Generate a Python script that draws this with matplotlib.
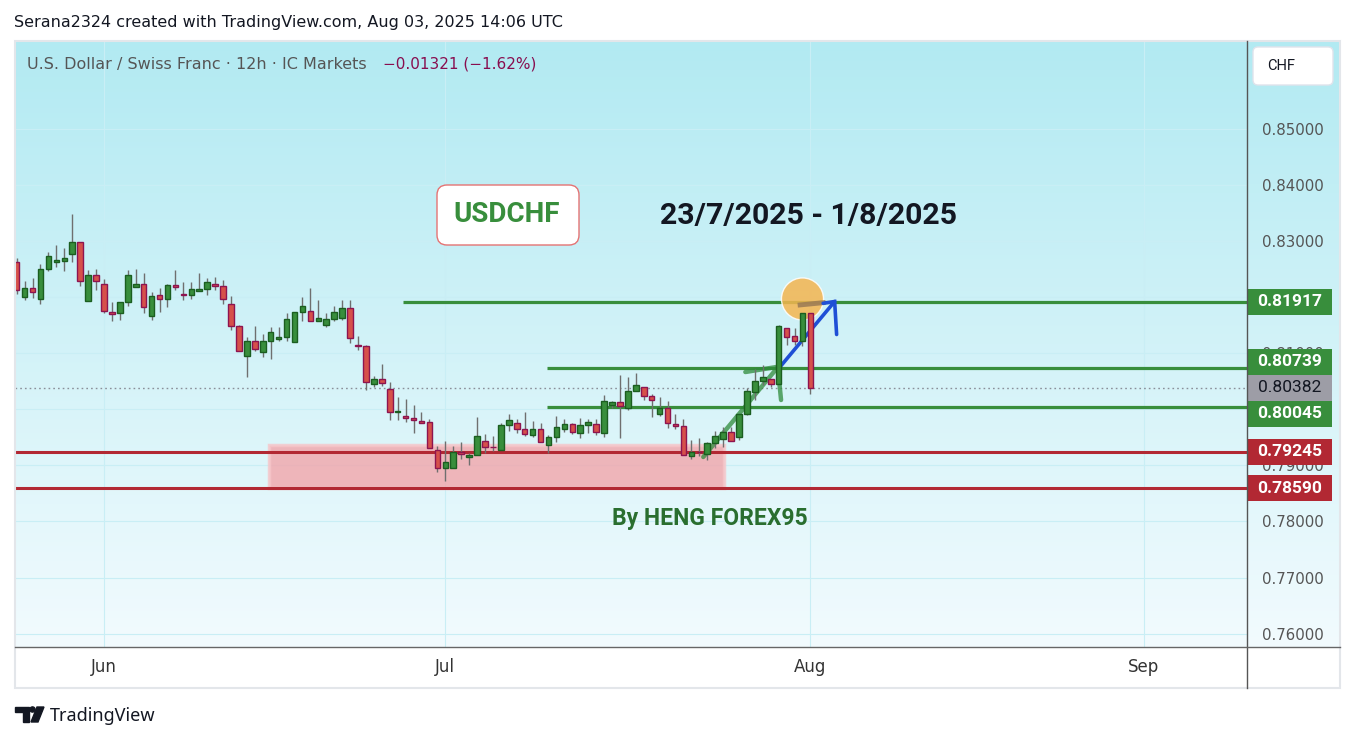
import numpy as np
import matplotlib.pyplot as plt
from matplotlib.patches import Rectangle, FancyBboxPatch, Ellipse, Polygon, Circle

plt.rcParams['font.family'] = ['DejaVu Sans']
NEGRITA = ['Roboto', 'DejaVu Sans']

# velas 12h USD/CHF
opens = [0.8262, 0.8200, 0.8216, 0.8196, 0.8250, 0.8262, 0.8265, 0.8277, 0.8298, 0.8193,
         0.8239, 0.8223, 0.8173, 0.8172, 0.8191, 0.8218, 0.8223, 0.8166, 0.8203, 0.8196,
         0.8221, 0.8205, 0.8203, 0.8211, 0.8214, 0.8223, 0.8219, 0.8187, 0.8148, 0.8095,
         0.8121, 0.8102, 0.8121, 0.8126, 0.8129, 0.8120, 0.8173, 0.8175, 0.8157, 0.8150,
         0.8161, 0.8162, 0.8180, 0.8114, 0.8112, 0.8045, 0.8054, 0.8036, 0.7995, 0.7988,
         0.7984, 0.7979, 0.7977, 0.7927, 0.7896, 0.7895, 0.7923, 0.7915, 0.7918, 0.7943,
         0.7933, 0.7927, 0.7972, 0.7975, 0.7965, 0.7954, 0.7965, 0.7936, 0.7950, 0.7965,
         0.7973, 0.7957, 0.7972, 0.7973, 0.7957, 0.8007, 0.8013, 0.8002, 0.8032, 0.8039,
         0.8023, 0.7991, 0.8002, 0.7973, 0.7970, 0.7916, 0.7924, 0.7920, 0.7940, 0.7947,
         0.7959, 0.7950, 0.7991, 0.8030, 0.8050, 0.8054, 0.8045, 0.8145, 0.8130, 0.8121,
         0.8171]
highs = [0.8270, 0.8229, 0.8234, 0.8259, 0.8281, 0.8293, 0.8287, 0.8348, 0.8298, 0.8249,
         0.8250, 0.8232, 0.8191, 0.8191, 0.8249, 0.8250, 0.8243, 0.8209, 0.8216, 0.8223,
         0.8249, 0.8227, 0.8227, 0.8243, 0.8234, 0.8236, 0.8231, 0.8202, 0.8150, 0.8129,
         0.8149, 0.8134, 0.8147, 0.8147, 0.8172, 0.8173, 0.8200, 0.8216, 0.8195, 0.8172,
         0.8184, 0.8195, 0.8195, 0.8131, 0.8114, 0.8059, 0.8081, 0.8048, 0.8022, 0.8018,
         0.8008, 0.7995, 0.7983, 0.7935, 0.7944, 0.7935, 0.7942, 0.7922, 0.7986, 0.7956,
         0.7952, 0.7975, 0.7992, 0.7983, 0.7995, 0.7979, 0.7976, 0.7954, 0.7988, 0.7983,
         0.7975, 0.7985, 0.7982, 0.7982, 0.8026, 0.8014, 0.8061, 0.8058, 0.8065, 0.8039,
         0.8027, 0.8022, 0.8014, 0.7991, 0.7982, 0.7945, 0.7949, 0.7942, 0.7961, 0.7968,
         0.7968, 0.7992, 0.8038, 0.8071, 0.8079, 0.8054, 0.8150, 0.8145, 0.8145, 0.8171,
         0.8171]
lows = [0.8206, 0.8194, 0.8199, 0.8188, 0.8247, 0.8254, 0.8247, 0.8262, 0.8219, 0.8193,
        0.8213, 0.8172, 0.8158, 0.8159, 0.8184, 0.8218, 0.8171, 0.8160, 0.8174, 0.8183,
        0.8212, 0.8194, 0.8196, 0.8211, 0.8204, 0.8213, 0.8187, 0.8142, 0.8104, 0.8057,
        0.8104, 0.8094, 0.8090, 0.8121, 0.8122, 0.8120, 0.8158, 0.8157, 0.8157, 0.8147,
        0.8158, 0.8160, 0.8118, 0.8106, 0.8035, 0.8040, 0.8042, 0.7981, 0.7980, 0.7978,
        0.7958, 0.7975, 0.7931, 0.7889, 0.7873, 0.7895, 0.7912, 0.7901, 0.7918, 0.7922,
        0.7925, 0.7927, 0.7961, 0.7957, 0.7952, 0.7950, 0.7941, 0.7922, 0.7942, 0.7959,
        0.7956, 0.7948, 0.7957, 0.7954, 0.7951, 0.8002, 0.7948, 0.7998, 0.8032, 0.8016,
        0.7986, 0.7988, 0.7966, 0.7965, 0.7918, 0.7911, 0.7916, 0.7910, 0.7931, 0.7933,
        0.7943, 0.7945, 0.7990, 0.8017, 0.8043, 0.8039, 0.8045, 0.8114, 0.8114, 0.8112,
        0.8027]
closes = [0.8212, 0.8216, 0.8209, 0.8250, 0.8273, 0.8266, 0.8269, 0.8298, 0.8228, 0.8239,
          0.8228, 0.8175, 0.8170, 0.8191, 0.8239, 0.8223, 0.8182, 0.8202, 0.8196, 0.8221,
          0.8218, 0.8203, 0.8214, 0.8214, 0.8227, 0.8219, 0.8196, 0.8148, 0.8104, 0.8121,
          0.8108, 0.8121, 0.8137, 0.8129, 0.8161, 0.8173, 0.8184, 0.8157, 0.8162, 0.8161,
          0.8173, 0.8180, 0.8127, 0.8113, 0.8048, 0.8054, 0.8047, 0.7996, 0.7997, 0.7984,
          0.7980, 0.7976, 0.7931, 0.7896, 0.7906, 0.7923, 0.7920, 0.7918, 0.7952, 0.7932,
          0.7932, 0.7972, 0.7980, 0.7965, 0.7956, 0.7965, 0.7941, 0.7950, 0.7968, 0.7973,
          0.7959, 0.7972, 0.7977, 0.7959, 0.8014, 0.8013, 0.8006, 0.8032, 0.8043, 0.8023,
          0.8016, 0.8002, 0.7975, 0.7970, 0.7918, 0.7923, 0.7923, 0.7940, 0.7952, 0.7959,
          0.7943, 0.7991, 0.8032, 0.8050, 0.8057, 0.8045, 0.8148, 0.8129, 0.8121, 0.8171,
          0.80382]

ultimo = 0.80382
niveles_verdes = [0.81917, 0.80739, 0.80045]
inicio_verdes = [48.7, 66.8, 66.8]
niveles_rojos = [0.79245, 0.78590]
zona_x = [31.8, 89.1]
zona_y = [0.78590, 0.79363]
meses = ['Jun', 'Jul', 'Aug', 'Sep']
pos_meses = [11, 54, 100, 142]
precios_eje = np.round(np.arange(0.76, 0.851, 0.01), 2)
ocultos = [0.80, 0.82]  # tapados por las etiquetas de precio

# dibujos a mano
circulo = (99.0, 0.81966)
flecha_x = [96.05, 103.05]
flecha_y = [0.80735, 0.81921]
punta_x = [101.6, 103.05, 103.3]
punta_y = [0.81889, 0.81921, 0.81333]
trazos_verdes = [([86.5, 95.8], [0.79149, 0.80735]),
                 ([91.8, 95.7], [0.80664, 0.80753]),
                 ([95.95, 96.3], [0.80664, 0.80165])]

W, H = 1355, 742
fig = plt.figure(figsize=(W / 100, H / 100), dpi=100)
fig.patch.set_facecolor('white')


def caja(x0, y0, x1, y1):
    return [x0 / W, 1 - y1 / H, (x1 - x0) / W, (y1 - y0) / H]


# fondo degradado
fondo = fig.add_axes(caja(15, 41, 1340, 647), zorder=0)
grad = np.linspace(0, 1, 300)[:, None, None]
arriba = np.array([178, 234, 242]) / 255
abajo = np.array([242, 251, 254]) / 255
fondo.imshow(arriba + (abajo - arriba) * grad, aspect='auto', extent=[0, 1, 0, 1])
fondo.axis('off')

ax = fig.add_axes(caja(15, 41, 1247, 647), zorder=1)
ax.set_facecolor('none')
ax.set_xlim(-0.21, 155.0)
ax.set_ylim(0.75762, 0.86565)

# velas
x = np.arange(len(opens))
o, h, l, c = map(np.array, (opens, highs, lows, closes))
sube = c >= o
ax.vlines(x, l, h, color='#6f6f6f', lw=1, zorder=3)
ax.bar(x[sube], (c - o)[sube], bottom=o[sube], width=0.7, color='#388e3c',
       edgecolor='#1b5e20', lw=1, zorder=4)
ax.bar(x[~sube], (o - c)[~sube], bottom=c[~sube], width=0.7, color='#d6504a',
       edgecolor='#8e1450', lw=1, zorder=4)

# zona y niveles
ax.add_patch(Rectangle((zona_x[0], zona_y[0]), zona_x[1] - zona_x[0], zona_y[1] - zona_y[0],
                       facecolor='#f2a5ab', edgecolor='#f6c6ca', lw=2.5, alpha=0.8, zorder=1.5))
for y, x0 in zip(niveles_verdes, inicio_verdes):
    ax.hlines(y, x0, 155, color='#388e3c', lw=2.3, zorder=2)
for y in niveles_rojos:
    ax.hlines(y, -1, 155, color='#b22833', lw=2.2, zorder=2)
ax.axhline(ultimo, color='#8a8f99', lw=1, ls=(0, (1.2, 2.2)), zorder=2)

ax.add_patch(Ellipse(circulo, 5.3, 0.0075, facecolor='#f5b54f', edgecolor='white',
                     lw=1, alpha=0.85, zorder=2.5))
ax.plot([98.7, 101.6], [0.8186, 0.8190], color='#9a7a55', lw=3.5, alpha=0.85, zorder=2.6)
ax.plot(flecha_x, flecha_y, color='#1f4fd6', lw=2.6, zorder=2.6, solid_capstyle='round')
ax.plot(punta_x, punta_y, color='#1f4fd6', lw=2.6, zorder=2.6, solid_capstyle='round',
        solid_joinstyle='miter')
for tx, ty in trazos_verdes:
    ax.plot(tx, ty, color='#2e8b3a', lw=3.2, alpha=0.75, zorder=2.6, solid_capstyle='round')

# ejes
ax.set_xticks(pos_meses)
ax.set_xticklabels(meses)
ax.set_yticks(precios_eje)
ax.set_yticklabels(['' if v in ocultos else f'{v:.5f}' for v in precios_eje])
ax.yaxis.tick_right()
ax.tick_params(axis='y', length=0, pad=10.8, labelsize=10.8, labelcolor='#555555')
ax.tick_params(axis='x', length=0, pad=8, labelsize=12, labelcolor='#333333')
ax.set_axisbelow(True)
ax.grid(color='#c9eef5', lw=0.8)
for s in ax.spines.values():
    s.set_visible(False)

# etiquetas de precio a la derecha
trans = ax.get_yaxis_transform()
y0, y1 = ax.get_ylim()
gap = 26 * (y1 - y0) / 606
etiquetas = [(v, '#388e3c', 'white', 'bold') for v in niveles_verdes] + \
            [(v, '#b22833', 'white', 'bold') for v in niveles_rojos]
pos = {}
prev = ultimo
for v in sorted([e[0] for e in etiquetas if e[0] > ultimo]):
    prev = max(v, prev + gap)
    pos[v] = prev
prev = ultimo
for v in sorted([e[0] for e in etiquetas if e[0] < ultimo], reverse=True):
    prev = min(v, prev - gap)
    pos[v] = prev
etiquetas.append((ultimo, '#9d9da6', '#131722', 'normal'))
pos[ultimo] = ultimo
for v, fc, tc, wt in etiquetas:
    yp = pos[v]
    ax.add_patch(Rectangle((1.0008, yp - gap / 2), 0.068, gap, transform=trans,
                           facecolor=fc, edgecolor='none', clip_on=False, zorder=5))
    ax.text(1.0349, yp, f'{v:.5f}', transform=trans, ha='center', va='center',
            fontsize=12.5, color=tc, fontweight=wt, family=NEGRITA, clip_on=False, zorder=6)

# capa superior en pixeles
ov = fig.add_axes([0, 0, 1, 1], zorder=2)
ov.set_xlim(0, W)
ov.set_ylim(H, 0)
ov.axis('off')

ov.add_patch(Rectangle((15, 41), 1325, 647, fill=False, edgecolor='#e3e6ea', lw=1.5))
ov.plot([1247, 1247], [41, 688], color='#555555', lw=1)
ov.plot([15, 1340], [647, 647], color='#666666', lw=1)

ov.text(14, 22, 'Serana2324 created with TradingView.com, Aug 03, 2025 14:06 UTC',
        va='center', fontsize=11.5, color='#131722')
ov.text(27, 64, 'U.S. Dollar / Swiss Franc · 12h · IC Markets', va='center',
        fontsize=11.5, color='#555555')
ov.text(383, 64, '−0.01321 (−1.62%)', va='center', fontsize=11, color='#880e4f')

ov.add_patch(FancyBboxPatch((1253, 47), 80, 38, boxstyle='round,pad=0,rounding_size=5',
                            facecolor='white', edgecolor='#e0e3eb', lw=1))
ov.text(1267, 66, 'CHF', va='center', fontsize=10.5, color='#131722', family=NEGRITA)

ov.add_patch(FancyBboxPatch((437, 185), 142, 60, boxstyle='round,pad=0,rounding_size=10',
                            facecolor='white', edgecolor='#e57373', lw=1))
ov.text(507, 214, 'USDCHF', ha='center', va='center', fontsize=20, fontweight='bold',
        color='#388e3c', family=NEGRITA)
ov.text(809, 216, '23/7/2025 - 1/8/2025', ha='center', va='center', fontsize=21.8,
        fontweight='bold', color='#131722', family=NEGRITA)
ov.text(710, 519, 'By HENG FOREX95', ha='center', va='center', fontsize=16.5,
        fontweight='bold', color='#2a6e2f', family=NEGRITA)

# logo
ov.add_patch(Polygon([(15, 707), (29, 707), (29, 722), (23, 722), (23, 712), (15, 712)],
                     closed=True, color='#131722'))
ov.add_patch(Circle((32.5, 709.5), 2.6, color='#131722'))
ov.add_patch(Polygon([(37, 707), (44, 707), (38, 722), (31, 722)], closed=True,
                     color='#131722'))
ov.text(50, 716, 'TradingView', va='center', fontsize=13, color='#131722',
        family=['Noto Sans', 'DejaVu Sans'])

fig.savefig('out.png', dpi=100)
